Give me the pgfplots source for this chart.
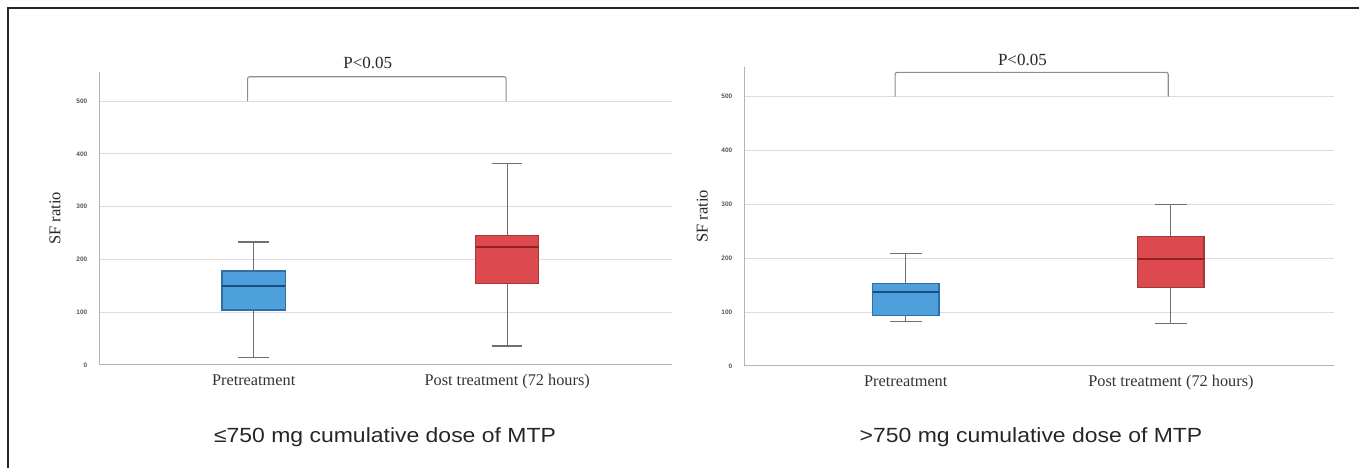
\documentclass[border=0pt]{standalone}
\usepackage{pgfplots}
\pgfplotsset{compat=1.18}
\usepackage{fontspec}
\usepackage{graphicx}
\setmainfont{Liberation Serif}
\newfontfamily\arialf{Liberation Sans}
\definecolor{preblue}{HTML}{4EA0DC}
\definecolor{preedge}{HTML}{2E6FA8}
\definecolor{premed}{HTML}{1C4C7C}
\definecolor{postred}{HTML}{DC4A4F}
\definecolor{postedge}{HTML}{A8353A}
\definecolor{postmed}{HTML}{8A2226}
\definecolor{whiskgray}{HTML}{707070}
\definecolor{gridgray}{HTML}{DCDCDC}
\definecolor{axisgray}{HTML}{B4B4B4}
\definecolor{tickgray}{HTML}{555555}
\pgfplotsset{
  sfbox/.style={
    scale only axis,
    anchor=south west,
    ymin=0, ymax=555,
    axis lines=left,
    axis line style={-, draw=axisgray, line width=1pt},
    ytick={0,100,200,300,400,500},
    xtick={1,2},
    xticklabels={Pretreatment, Post treatment (72 hours)},
    ymajorgrids,
    grid style={gridgray, line width=1pt},
    tick style={draw=none},
    /pgf/number format/assume math mode=true,
    yticklabel style={font=\arialf\bfseries\fontsize{6.5pt}{7pt}\selectfont, text=tickgray, xshift=-6pt},
    xticklabel style={font=\fontsize{16.3pt}{19pt}\selectfont, text=black!80, yshift=-4pt},
    ylabel={SF ratio},
    ylabel style={font=\fontsize{16.5pt}{19pt}\selectfont, text=black!85},
    clip=false,
  },
  whisk/.style={draw=whiskgray, line width=1.1pt},
  box/.style={line width=1.2pt, line join=miter},
  med/.style={line width=2.2pt},
}
\newcommand{\capt}[1]{\scalebox{1.12}[1]{\arialf\fontsize{20.5pt}{24pt}\selectfont #1}}
\begin{document}
\begin{tikzpicture}
\path[use as bounding box] (0pt,0pt) rectangle (1359pt,468pt);
\draw[line width=2.6pt, color=black!85] (8pt,-5pt) -- (8pt,460pt) -- (1370pt,460pt);

% ---------- left panel ----------
\begin{axis}[sfbox, at={(99pt,103pt)}, width=573pt, height=293pt, xmin=0.39, xmax=2.65,
  ylabel style={at={(axis description cs:-0.077,0.5)}, anchor=center}]
% Pretreatment: lw 15, q1 104, med 150, q3 178, uw 233
\addplot[whisk] coordinates {(1,178) (1,233)};
\addplot[whisk] coordinates {(1,104) (1,15)};
\addplot[whisk] coordinates {(0.94,233) (1.06,233)};
\addplot[whisk] coordinates {(0.94,15) (1.06,15)};
\addplot[box, fill=preblue, draw=preedge] coordinates {(0.875,104) (1.125,104) (1.125,178) (0.875,178)} --cycle;
\addplot[med, draw=premed] coordinates {(0.875,150) (1.125,150)};
% Post treatment: lw 36, q1 155, med 224, q3 245, uw 381
\addplot[whisk] coordinates {(2,245) (2,381)};
\addplot[whisk] coordinates {(2,155) (2,36)};
\addplot[whisk] coordinates {(1.94,381) (2.06,381)};
\addplot[whisk] coordinates {(1.94,36) (2.06,36)};
\addplot[box, fill=postred, draw=postedge] coordinates {(1.875,155) (2.125,155) (2.125,245) (1.875,245)} --cycle;
\addplot[med, draw=postmed] coordinates {(1.875,224) (2.125,224)};
\draw[color=black!45, line width=1.1pt, rounded corners=2pt]
  (axis cs:0.976,500) -- (axis cs:0.976,546) -- (axis cs:1.996,546) -- (axis cs:1.996,500);
\node[anchor=base, font=\fontsize{17pt}{20pt}\selectfont, text=black!85] at (axis cs:1.45,561) {P<0.05};
\end{axis}
\node[anchor=base, text=black!85, inner sep=0pt] at (385pt,25pt) {\capt{≤750 mg cumulative dose of MTP}};

% ---------- right panel ----------
\begin{axis}[sfbox, at={(744pt,102pt)}, width=590pt, height=299pt, xmin=0.39, xmax=2.615,
  ylabel style={at={(axis description cs:-0.071,0.5)}, anchor=center}]
% Pretreatment: lw 82, q1 94, med 138, q3 153, uw 209
\addplot[whisk] coordinates {(1,153) (1,209)};
\addplot[whisk] coordinates {(1,94) (1,82)};
\addplot[whisk] coordinates {(0.94,209) (1.06,209)};
\addplot[whisk] coordinates {(0.94,82) (1.06,82)};
\addplot[box, fill=preblue, draw=preedge] coordinates {(0.875,94) (1.125,94) (1.125,153) (0.875,153)} --cycle;
\addplot[med, draw=premed] coordinates {(0.875,138) (1.125,138)};
% Post treatment: lw 79, q1 146, med 199, q3 240, uw 300
\addplot[whisk] coordinates {(2,240) (2,300)};
\addplot[whisk] coordinates {(2,146) (2,79)};
\addplot[whisk] coordinates {(1.94,300) (2.06,300)};
\addplot[whisk] coordinates {(1.94,79) (2.06,79)};
\addplot[box, fill=postred, draw=postedge] coordinates {(1.875,146) (2.125,146) (2.125,240) (1.875,240)} --cycle;
\addplot[med, draw=postmed] coordinates {(1.875,199) (2.125,199)};
\draw[color=black!45, line width=1.1pt, rounded corners=2pt]
  (axis cs:0.96,500) -- (axis cs:0.96,545) -- (axis cs:1.99,545) -- (axis cs:1.99,500);
\node[anchor=base, font=\fontsize{17pt}{20pt}\selectfont, text=black!85] at (axis cs:1.44,558) {P<0.05};
\end{axis}
\node[anchor=base, text=black!85, inner sep=0pt] at (1031pt,25pt) {\capt{>750 mg cumulative dose of MTP}};
\end{tikzpicture}
\end{document}
